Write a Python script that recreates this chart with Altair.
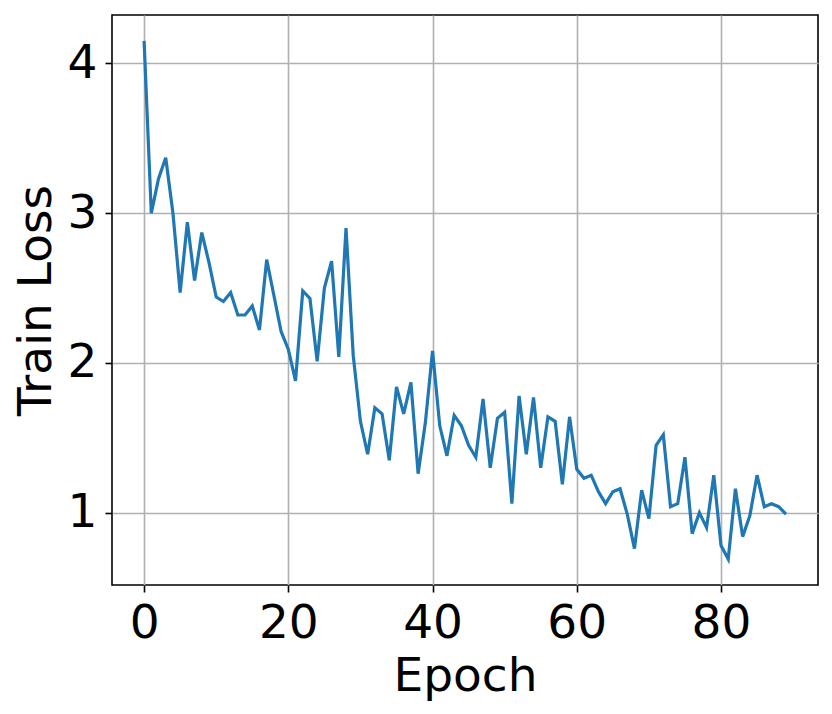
import altair as alt
import pandas as pd

epochs = list(range(90))
train_loss = [
    4.15, 3.00, 3.23, 3.37, 3.00, 2.47, 2.94, 2.55, 2.87, 2.67,
    2.44, 2.41, 2.47, 2.32, 2.32, 2.38, 2.22, 2.69, 2.45, 2.21,
    2.09, 1.88, 2.48, 2.43, 2.01, 2.50, 2.68, 2.04, 2.90, 2.05,
    1.61, 1.39, 1.70, 1.66, 1.35, 1.84, 1.66, 1.87, 1.26, 1.60,
    2.08, 1.58, 1.38, 1.65, 1.58, 1.45, 1.37, 1.76, 1.30, 1.63,
    1.67, 1.06, 1.78, 1.39, 1.77, 1.30, 1.64, 1.61, 1.19, 1.64,
    1.29, 1.23, 1.25, 1.14, 1.06, 1.14, 1.16, 0.99, 0.76, 1.15,
    0.96, 1.45, 1.52, 1.04, 1.06, 1.37, 0.86, 1.00, 0.90, 1.25,
    0.78, 0.69, 1.16, 0.84, 0.98, 1.25, 1.04, 1.06, 1.04, 0.99,
]
x_ticks = [0, 20, 40, 60, 80]
y_ticks = [1, 2, 3, 4]

df = pd.DataFrame({"Epoch": epochs, "Train Loss": train_loss})

FONT = "DejaVu Sans"
FS = 47

chart = alt.Chart(df).mark_line(color="#1f77b4", strokeWidth=3.2).encode(
    x=alt.X(
        "Epoch:Q",
        scale=alt.Scale(domain=[-4.45, 93.45], nice=False, zero=False),
        axis=alt.Axis(
            title="Epoch",
            values=x_ticks,
            format="d",
            tickSize=7,
            tickWidth=1.6,
            tickColor="black",
            labelBaseline="alphabetic",
            labelPadding=45,
            titleY=105,
            titleBaseline="alphabetic",
        ),
    ),
    y=alt.Y(
        "Train Loss:Q",
        scale=alt.Scale(domain=[0.517, 4.323], nice=False, zero=False),
        axis=alt.Axis(
            title="Train Loss",
            values=y_ticks,
            format="d",
            tickSize=7,
            tickWidth=1.6,
            tickColor="black",
            labelPadding=8,
            titleX=-76,
            titleY=285,
            titleAngle=-90,
            titleAlign="center",
            titleBaseline="middle",
        ),
    ),
).properties(
    width=706,
    height=570,
    autosize=alt.AutoSizeParams(type="none"),
    padding={"left": 104, "top": 7, "right": 6, "bottom": 121},
).configure_view(
    stroke="black", strokeWidth=1.6
).configure_axis(
    domain=False,
    grid=True,
    gridColor="#b0b0b0",
    gridWidth=1.6,
    labelFont=FONT,
    labelFontSize=FS,
    labelColor="black",
    titleFont=FONT,
    titleFontSize=FS,
    titleFontWeight="normal",
    titleColor="black",
    labelFlush=False,
    labelOverlap=False,
)

chart.save("out.html", embed_options={"renderer": "svg", "actions": False})
